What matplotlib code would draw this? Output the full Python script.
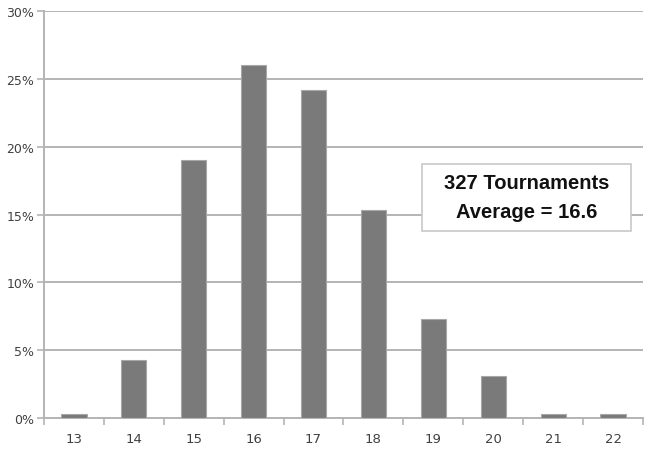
import matplotlib.pyplot as plt
from matplotlib.patches import Rectangle
from matplotlib.ticker import FixedLocator

# data
cards = ['13', '14', '15', '16', '17', '18', '19', '20', '21', '22']
pct = [0.3, 4.3, 19.0, 26.0, 24.2, 15.3, 7.3, 3.1, 0.3, 0.3]
y_ticks = [0, 5, 10, 15, 20, 25, 30]
box_lines = ['327 Tournaments', 'Average = 16.6']

fig = plt.figure(figsize=(6.5, 4.52), dpi=100)
ax = fig.add_axes([0.0677, 0.073, 0.9215, 0.9004])

x = list(range(len(cards)))
ax.bar(x, pct, width=0.42, color='#7a7a7a', edgecolor='#a8a8a8',
       linewidth=0.8, zorder=3)

ax.set_xlim(-0.5, len(cards) - 0.5)
ax.set_ylim(0, 30)
ax.set_yticks(y_ticks)
ax.set_yticklabels([f'{v}%' for v in y_ticks])
ax.set_xticks(x)
ax.set_xticklabels(cards)
ax.xaxis.set_minor_locator(FixedLocator([i - 0.5 for i in range(len(cards) + 1)]))

ax.grid(axis='y', color='#b4b4b4', linewidth=1.4, zorder=0)
for s in ['top', 'right']:
    ax.spines[s].set_visible(False)
ax.spines['left'].set_color('#b4b4b4')
ax.spines['left'].set_linewidth(1.4)
ax.spines['bottom'].set_color('#b4b4b4')
ax.spines['bottom'].set_linewidth(1.4)

ax.tick_params(axis='y', length=5, color='#b4b4b4', width=1.2,
               labelsize=9, labelcolor='#404040', pad=2)
ax.tick_params(axis='x', which='major', length=0, labelsize=9.5,
               labelcolor='#404040', pad=10)
ax.tick_params(axis='x', which='minor', length=5, color='#b4b4b4', width=1.2)

# annotation box
ax.add_patch(Rectangle((0.631, 0.4595), 0.349, 0.1645, transform=ax.transAxes,
                       facecolor='white', edgecolor='#c8c8c8', linewidth=1.2,
                       zorder=5))
for line, yy in zip(box_lines, [0.578, 0.508]):
    ax.text(0.8055, yy, line, transform=ax.transAxes,
            ha='center', va='center', fontsize=14.5, fontweight='bold',
            family=['Liberation Sans Narrow', 'Liberation Sans', 'DejaVu Sans'],
            color='#111111', zorder=6)

fig.savefig('out.png', dpi=100)
